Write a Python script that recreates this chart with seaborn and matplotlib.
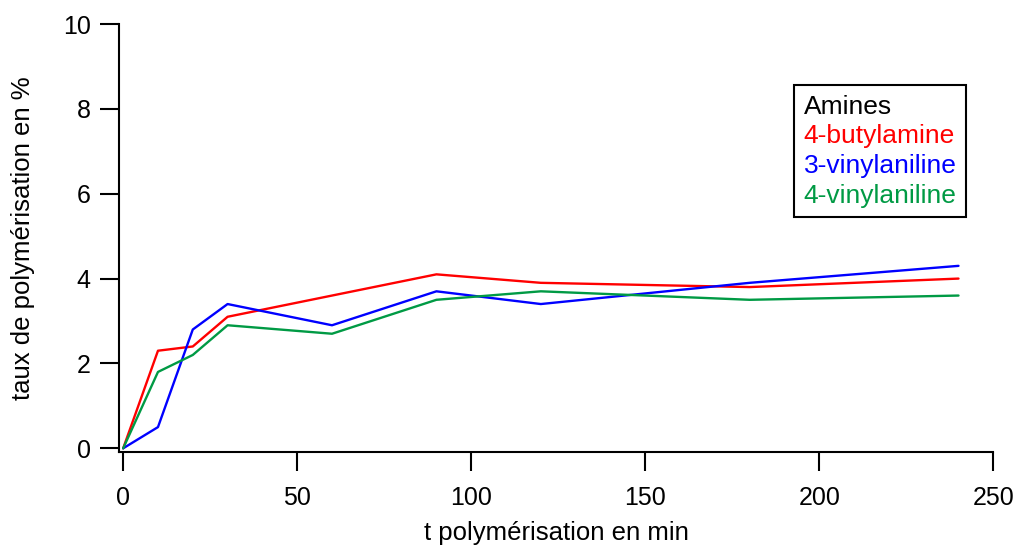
import numpy as np
import pandas as pd
import matplotlib
matplotlib.use("Agg")
import matplotlib.pyplot as plt
import seaborn as sns

# Data
temps = [0, 10, 20, 30, 60, 90, 120, 180, 240]
butylamine_4 = [0.0, 2.3, 2.4, 3.1, 3.6, 4.1, 3.9, 3.8, 4.0]
vinylaniline_3 = [0.0, 0.5, 2.8, 3.4, 2.9, 3.7, 3.4, 3.9, 4.3]
vinylaniline_4 = [0.0, 1.8, 2.2, 2.9, 2.7, 3.5, 3.7, 3.5, 3.6]
series_names = ["4-butylamine", "3-vinylaniline", "4-vinylaniline"]
series_colors = ["#FF0000", "#0000FF", "#009A44"]
x_ticks = [0, 50, 100, 150, 200, 250]
y_ticks = [0, 2, 4, 6, 8, 10]

df = pd.DataFrame({
    "t": temps * 3,
    "taux": butylamine_4 + vinylaniline_3 + vinylaniline_4,
    "amine": [series_names[0]] * len(temps) + [series_names[1]] * len(temps) + [series_names[2]] * len(temps),
})

sns.set_style("ticks")
plt.rcParams["font.family"] = ["Liberation Sans", "DejaVu Sans"]
plt.rcParams["text.color"] = "black"
plt.rcParams["axes.labelcolor"] = "black"

fig = plt.figure(figsize=(10.18, 5.47), dpi=100)
ax = fig.add_axes([119 / 1018, 1 - 451.7 / 547, (993.3 - 119) / 1018, (451.7 - 24) / 547])

sns.lineplot(data=df, x="t", y="taux", hue="amine", palette=dict(zip(series_names, series_colors)),
             linewidth=1.7, ax=ax, legend=True)

ax.set_xlim(-1.2, 250)
ax.set_ylim(-0.08, 10)
ax.set_xticks(x_ticks)
ax.set_yticks(y_ticks)
ax.set_xticklabels([str(v) for v in x_ticks])
ax.set_yticklabels([str(v) for v in y_ticks])
for side in ["top", "right"]:
    ax.spines[side].set_visible(False)
for side in ["left", "bottom"]:
    ax.spines[side].set_linewidth(1.5)
    ax.spines[side].set_color("black")
ax.tick_params(axis="both", direction="out", length=13.5, width=1.5, labelsize=18, colors="black")
ax.tick_params(axis="x", pad=11)
ax.tick_params(axis="y", pad=7)
ax.set_xlabel("t polymérisation en min", fontsize=18.5, labelpad=8, color="black")
ax.set_ylabel("taux de polymérisation en %", fontsize=18.5, labelpad=20, color="black")

handles, labels = ax.get_legend_handles_labels()
leg = ax.legend(handles, labels, title="Amines", loc="upper left",
                bbox_to_anchor=(794 / 1018, 1 - 85 / 547), bbox_transform=fig.transFigure,
                borderaxespad=0, fontsize=19, title_fontsize=19, handlelength=0, handletextpad=0,
                fancybox=False, framealpha=1, edgecolor="black", labelspacing=0.22,
                borderpad=0.36, alignment="left")
leg.get_frame().set_linewidth(1.5)
leg.get_title().set_color("black")
for h in leg.legend_handles:
    h.set_visible(False)
for txt, c in zip(leg.get_texts(), series_colors):
    txt.set_color(c)

fig.savefig("out.png", dpi=100)
